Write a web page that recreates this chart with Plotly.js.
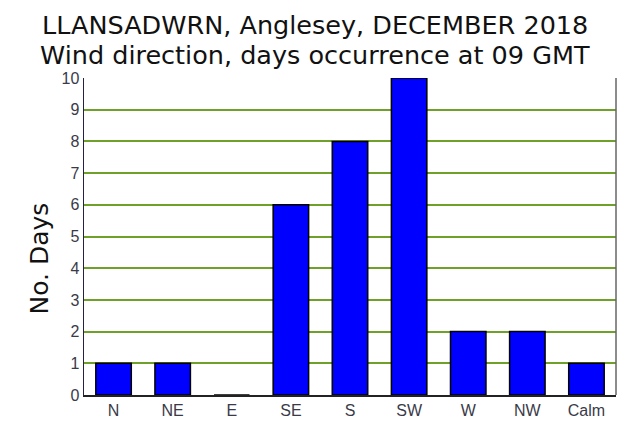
<!DOCTYPE html>
<html>
<head>
<meta charset="utf-8">
<script src="https://cdn.plot.ly/plotly-3.0.1.min.js"></script>
<style>
  html, body { margin: 0; padding: 0; background: #fff; }
  #chart { width: 633px; height: 431px; }
</style>
</head>
<body>
<div id="chart"></div>
<script>
const directions = ['N', 'NE', 'E', 'SE', 'S', 'SW', 'W', 'NW', 'Calm']
const days = [1, 1, 0, 6, 8, 10, 2, 2, 1]
const yTicks = [0, 1, 2, 3, 4, 5, 6, 7, 8, 9, 10]
const titleLines = [
    'LLANSADWRN, Anglesey, DECEMBER 2018',
    'Wind direction, days occurrence at 09 GMT'
]

const chart = document.getElementById('chart')

const titleFont = { family: 'DejaVu Sans', size: 25.5, color: '#111111' }
const tickFont = { family: 'Liberation Sans, Arial', size: 16, color: '#3a3a48' }

const data = [{
    x: directions,
    y: days,
    type: 'bar',
    marker: {
        color: '#0000ff',
        line: { color: '#000000', width: 1.5 }
    },
    hoverinfo: 'x+y'
}]

const layout = {
    width: 633,
    height: 431,
    paper_bgcolor: '#ffffff',
    plot_bgcolor: '#ffffff',
    margin: { l: 84, r: 17, t: 78, b: 36, pad: 0 },
    bargap: 0.4,
    showlegend: false,
    xaxis: {
        type: 'category',
        showgrid: false,
        showline: true,
        linecolor: '#222222',
        linewidth: 1.5,
        ticks: '',
        tickfont: tickFont,
        fixedrange: true
    },
    yaxis: {
        range: [0, 10],
        tickvals: yTicks,
        ticktext: yTicks.map(String),
        showgrid: true,
        gridcolor: '#6fa02a',
        gridwidth: 2,
        zeroline: false,
        showline: true,
        linecolor: '#222244',
        linewidth: 1.5,
        ticks: '',
        tickfont: tickFont,
        fixedrange: true
    },
    shapes: [{
        // right frame edge
        type: 'line', xref: 'paper', yref: 'paper',
        x0: 1, x1: 1, y0: 0, y1: 1,
        line: { color: '#666666', width: 1.5 }
    }],
    annotations: [
        {
            text: titleLines[0],
            xref: 'paper', yref: 'paper',
            x: 0.434, y: 1.166,
            xanchor: 'center', yanchor: 'middle',
            showarrow: false,
            font: titleFont
        },
        {
            text: titleLines[1],
            xref: 'paper', yref: 'paper',
            x: 0.434, y: 1.071,
            xanchor: 'center', yanchor: 'middle',
            showarrow: false,
            font: titleFont
        },
        {
            text: 'No. Days',
            textangle: -90,
            xref: 'paper', yref: 'paper',
            x: -0.083, y: 0.43,
            xanchor: 'center', yanchor: 'middle',
            showarrow: false,
            font: { family: 'DejaVu Sans', size: 25, color: '#111111' }
        }
    ]
}

Plotly.newPlot(chart, data, layout, { displayModeBar: false, staticPlot: true })
</script>
</body>
</html>
